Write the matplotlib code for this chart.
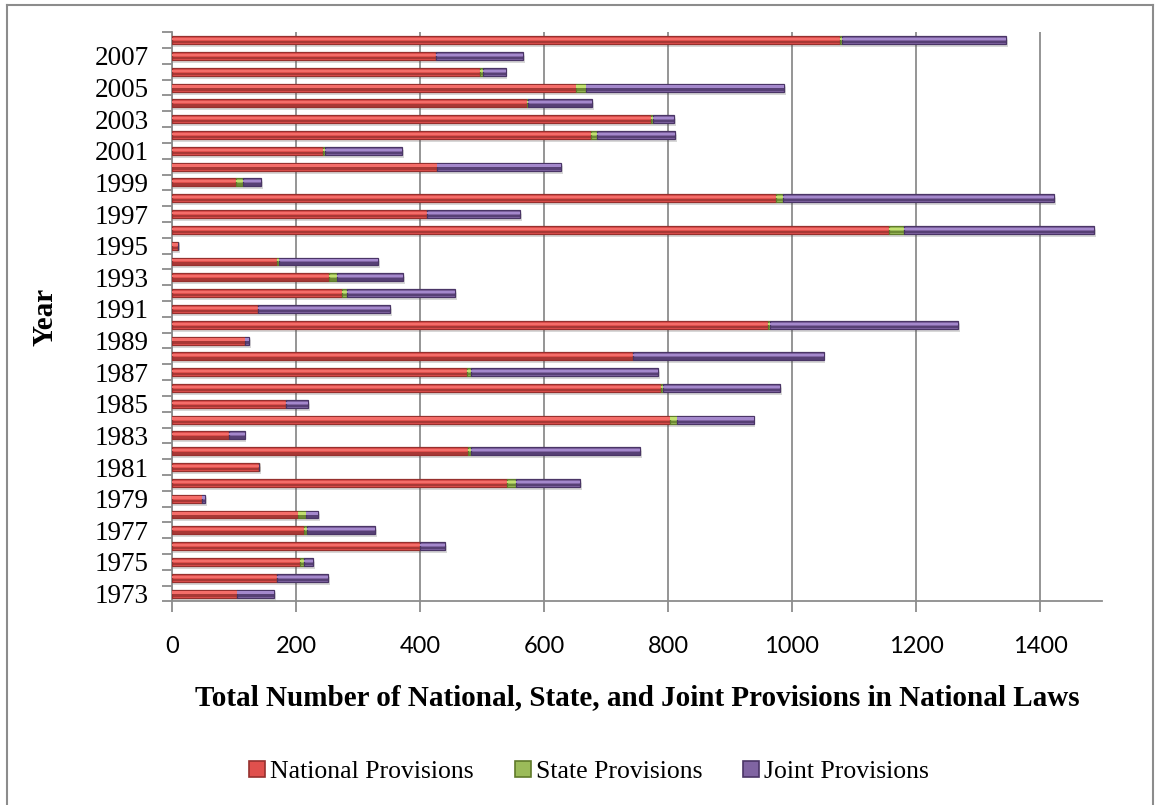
import matplotlib
matplotlib.use("Agg")
import matplotlib.pyplot as plt
import numpy as np
from matplotlib.lines import Line2D

# provisions per year, 1973 .. 2008
years = list(range(1973, 2009))
national = [105, 170, 207, 400, 213, 204, 48, 541, 140, 478,
            92, 803, 184, 788, 475, 744, 117, 961, 139, 274,
            254, 170, 10, 1157, 412, 974, 103, 427, 244, 676,
            773, 573, 651, 497, 425, 1077]
state = [0, 0, 6, 0, 5, 12, 0, 14, 0, 5,
         0, 12, 0, 4, 7, 0, 0, 3, 0, 9,
         12, 3, 0, 23, 0, 11, 12, 0, 2, 10,
         2, 1, 16, 5, 0, 4]
joint = [60, 82, 15, 41, 109, 19, 5, 103, 0, 272,
         25, 123, 36, 189, 302, 307, 7, 304, 213, 173,
         106, 160, 0, 307, 149, 437, 28, 200, 125, 126,
         35, 103, 320, 36, 141, 264]
series_names = ["National Provisions", "State Provisions", "Joint Provisions"]
x_ticks = [0, 200, 400, 600, 800, 1000, 1200, 1400]

# (main, light stripe, dark stripe)
palette = [("#E0504D", "#F46D69", "#96302E"),
           ("#9BBB59", "#C2E070", "#5F7A2A"),
           ("#8064A2", "#A488CC", "#4A3566")]

fig = plt.figure(figsize=(11.56, 8.05), dpi=100)
ax = fig.add_axes([0.1488, 0.2528, 0.8045, 0.7072])

y = np.arange(len(years))
h = 0.5
nat = np.array(national)
sta = np.array(state)
jnt = np.array(joint)
lefts = [np.zeros(len(y)), nat, nat + sta]
vals = [nat, sta, jnt]

# soft drop shadow under each whole bar
total = nat + sta + jnt
for k, a in enumerate([0.06, 0.08, 0.11]):
    ax.barh(y - 0.15 - 0.03 * k, total + 3, height=h + 0.08 - 0.06 * k,
            color="#555555", alpha=a, linewidth=0, zorder=1)

for v, l, (c, light, dark) in zip(vals, lefts, palette):
    ax.barh(y, v, left=l, height=h, color=c, edgecolor=dark,
            linewidth=0.9, zorder=3)
    ax.barh(y + 0.07, v, left=l, height=0.14, color=light,
            linewidth=0, zorder=4)
    ax.barh(y - 0.13, v, left=l, height=0.15, color=dark,
            alpha=0.75, linewidth=0, zorder=4)

ax.set_xlim(0, 1500)
ax.set_ylim(-0.5, len(years) - 0.5)

ax.set_xticks(x_ticks)
ax.set_xticklabels([str(t) for t in x_ticks], family="Lato", fontsize=17)
ax.tick_params(axis="x", length=8, width=1.3, color="#8C8C8C", pad=17)
ax.xaxis.grid(True, color="#8C8C8C", linewidth=1.3, zorder=0)
ax.set_axisbelow(True)

ax.set_yticks(y[::2])
ax.set_yticklabels([str(yr) for yr in years[::2]],
                   family="Liberation Serif", fontsize=19.5)
ax.set_yticks(np.arange(-0.5, len(years)), minor=True)
ax.tick_params(axis="y", which="major", length=0, pad=17)
ax.tick_params(axis="y", which="minor", length=7, width=1.3, color="#8C8C8C")

for side in ["top", "right"]:
    ax.spines[side].set_visible(False)
for side in ["left", "bottom"]:
    ax.spines[side].set_color("#8C8C8C")
    ax.spines[side].set_linewidth(1.3)

ax.set_xlabel("Total Number of National, State, and Joint Provisions in National Laws",
              family="Liberation Serif", fontweight="bold", fontsize=21, labelpad=19)
ax.set_ylabel("Year", family="Liberation Serif", fontweight="bold",
              fontsize=21, labelpad=26)

handles = [Line2D([], [], linestyle="none", marker="s", markersize=11,
                  markerfacecolor=c, markeredgecolor=dark, markeredgewidth=1.2)
           for c, _, dark in palette]
fig.legend(handles, series_names, loc="center", bbox_to_anchor=(0.508, 0.042),
           ncol=3, frameon=False, handletextpad=0.05, columnspacing=1.45,
           handlelength=0.9, prop={"family": "Liberation Serif", "size": 18.5})

# chart frame
fig.add_artist(Line2D([7 / 1156, 7 / 1156], [0, 1 - 5 / 805],
                      transform=fig.transFigure, color="#8C8C8C", linewidth=1.5))
fig.add_artist(Line2D([7 / 1156, 1153 / 1156], [1 - 5 / 805, 1 - 5 / 805],
                      transform=fig.transFigure, color="#8C8C8C", linewidth=1.5))
fig.add_artist(Line2D([1153 / 1156, 1153 / 1156], [0, 1 - 5 / 805],
                      transform=fig.transFigure, color="#8C8C8C", linewidth=1.5))

fig.savefig("out.png", dpi=100)
